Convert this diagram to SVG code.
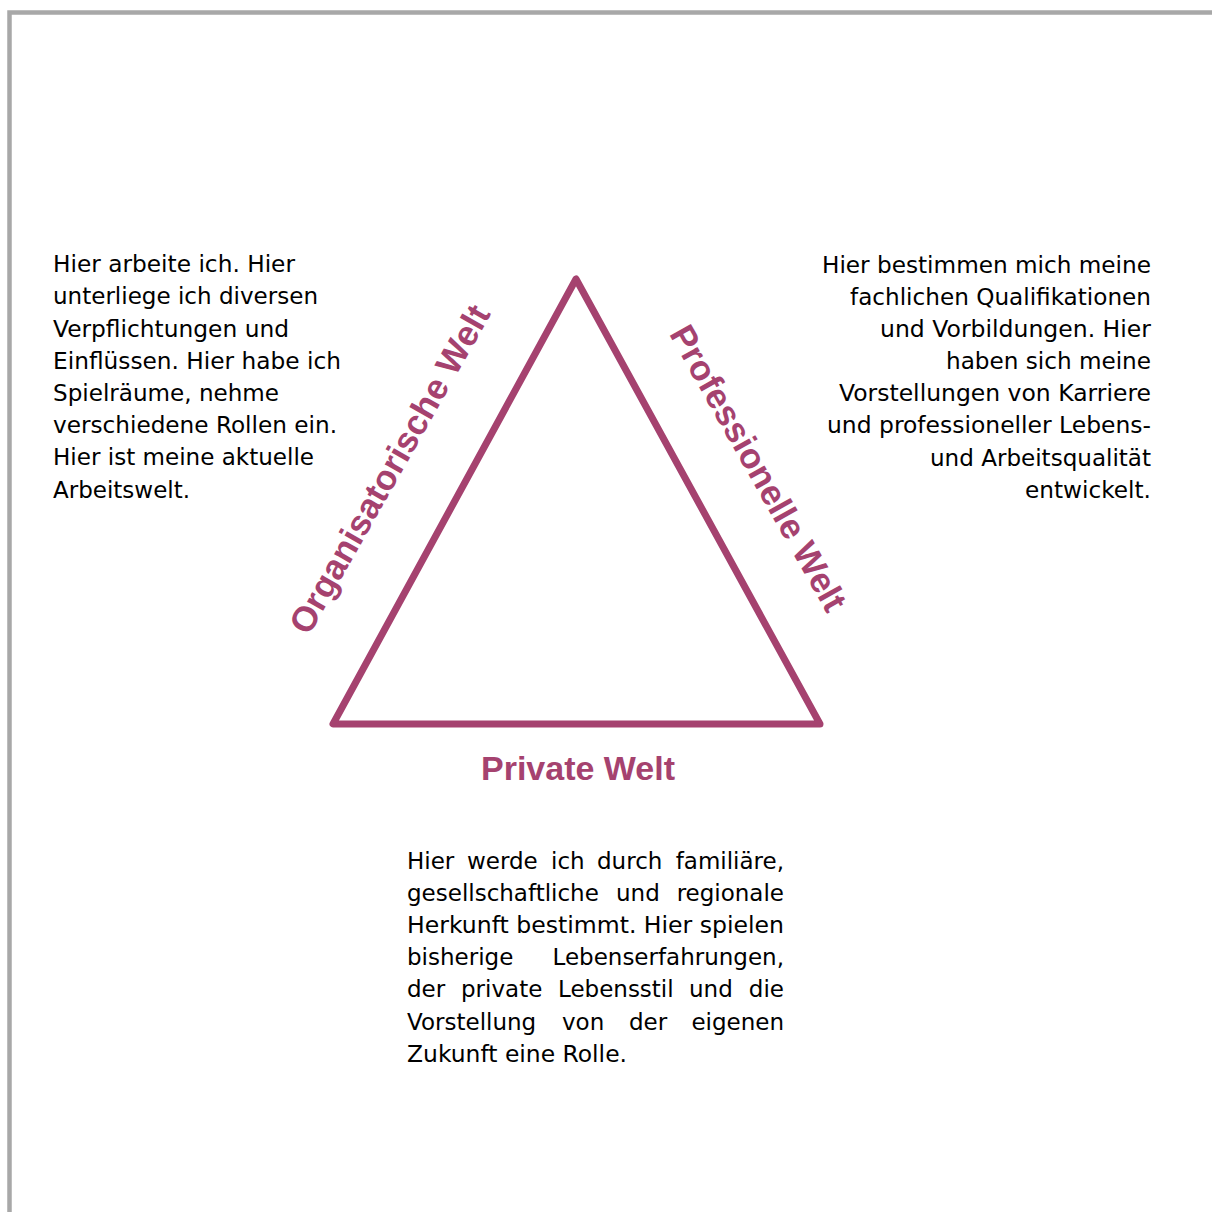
<svg xmlns="http://www.w3.org/2000/svg" width="1212" height="1212" viewBox="0 0 1212 1212">
<style>
.body{font-family:"DejaVu Sans","Liberation Sans",sans-serif;font-size:23px;fill:#000}
.lbl{font-family:"Liberation Sans",Arial,sans-serif;font-size:34px;font-weight:bold;fill:#A5426F;text-anchor:middle}
.rot{font-size:35px}
.r{text-anchor:end}
</style>
<rect width="1212" height="1212" fill="#fff"/>
<path d="M9.5 1212 V12.5 H1212" fill="none" stroke="#A8A8A8" stroke-width="4.5"/>
<g id="connectors">
<polygon points="576,279 333,724 820,724" fill="none" stroke="#A5426F" stroke-width="7" stroke-linejoin="round"/>
</g>
<g id="label-org"><text class="lbl rot" transform="translate(400,475) rotate(-60.5)">Organisatorische Welt</text></g>
<g id="label-prof"><text class="lbl rot" transform="translate(748,474) rotate(60.5)">Professionelle Welt</text></g>
<g id="label-priv"><text class="lbl" x="578" y="780">Private Welt</text></g>
<g id="text-left" class="body">
<text x="53" y="272" textLength="242" lengthAdjust="spacingAndGlyphs">Hier arbeite ich. Hier</text>
<text x="53" y="304" textLength="265" lengthAdjust="spacingAndGlyphs">unterliege ich diversen</text>
<text x="53" y="337" textLength="236" lengthAdjust="spacingAndGlyphs">Verpflichtungen und</text>
<text x="53" y="369" textLength="288" lengthAdjust="spacingAndGlyphs">Einflüssen. Hier habe ich</text>
<text x="53" y="401" textLength="226" lengthAdjust="spacingAndGlyphs">Spielräume, nehme</text>
<text x="53" y="433" textLength="284" lengthAdjust="spacingAndGlyphs">verschiedene Rollen ein.</text>
<text x="53" y="465" textLength="261" lengthAdjust="spacingAndGlyphs">Hier ist meine aktuelle</text>
<text x="53" y="498" textLength="137" lengthAdjust="spacingAndGlyphs">Arbeitswelt.</text>
</g>
<g id="text-right" class="body">
<text x="822" y="273" textLength="329" lengthAdjust="spacingAndGlyphs">Hier bestimmen mich meine</text>
<text x="850" y="305" textLength="301" lengthAdjust="spacingAndGlyphs">fachlichen Qualifikationen</text>
<text x="880" y="337" textLength="271" lengthAdjust="spacingAndGlyphs">und Vorbildungen. Hier</text>
<text x="946" y="369" textLength="205" lengthAdjust="spacingAndGlyphs">haben sich meine</text>
<text x="839" y="401" textLength="312" lengthAdjust="spacingAndGlyphs">Vorstellungen von Karriere</text>
<text x="827" y="433" textLength="324" lengthAdjust="spacingAndGlyphs">und professioneller Lebens-</text>
<text x="930" y="466" textLength="221" lengthAdjust="spacingAndGlyphs">und Arbeitsqualität</text>
<text x="1025" y="498" textLength="126" lengthAdjust="spacingAndGlyphs">entwickelt.</text>
</g>
<g id="text-bottom" class="body">
<text y="869"><tspan x="407">Hier</tspan><tspan x="467">werde</tspan><tspan x="551">ich</tspan><tspan x="597">durch</tspan></text>
<text class="r" x="784" y="869">familiäre,</text>
<text y="901"><tspan x="407">gesellschaftliche</tspan><tspan x="616">und</tspan></text>
<text class="r" x="784" y="901">regionale</text>
<text x="407" y="933" textLength="377" lengthAdjust="spacingAndGlyphs">Herkunft bestimmt. Hier spielen</text>
<text x="407" y="965">bisherige</text>
<text class="r" x="784" y="965">Lebenserfahrungen,</text>
<text y="997"><tspan x="407">der</tspan><tspan x="461">private</tspan><tspan x="558">Lebensstil</tspan><tspan x="689">und</tspan></text>
<text class="r" x="784" y="997">die</text>
<text y="1030"><tspan x="407">Vorstellung</tspan><tspan x="562">von</tspan><tspan x="629">der</tspan></text>
<text class="r" x="784" y="1030">eigenen</text>
<text x="407" y="1062" textLength="220" lengthAdjust="spacingAndGlyphs">Zukunft eine Rolle.</text>
</g>
</svg>
